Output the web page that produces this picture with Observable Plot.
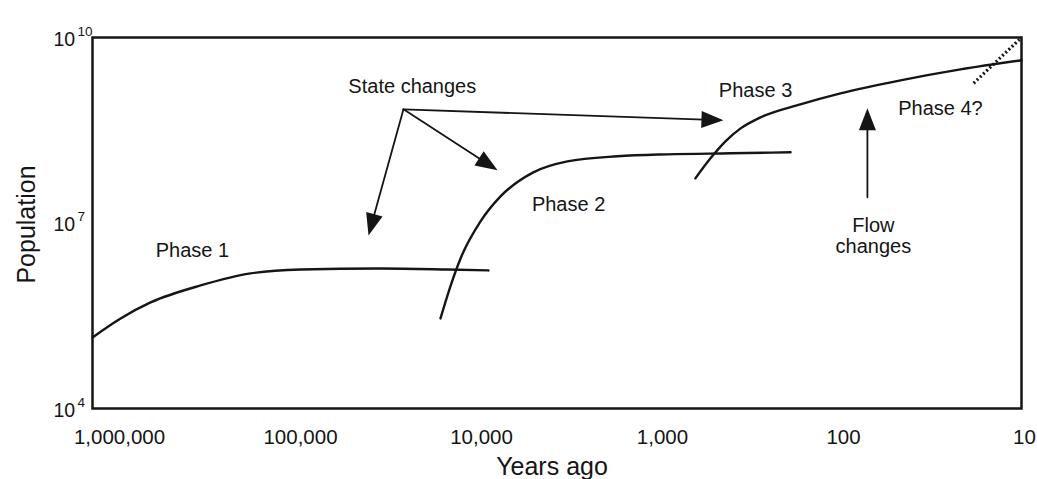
<!DOCTYPE html>
<html><head><meta charset="utf-8">
<script src="https://cdn.jsdelivr.net/npm/d3@7"></script>
<script src="https://cdn.jsdelivr.net/npm/@observablehq/plot@0.6"></script>
<style>body{margin:0;background:#fff} #chart svg{display:block}</style>
</head><body><div id="chart"></div>
<script>
// ---- data ----
const phase1Years = [1000000, 706000, 487000, 262000, 141000, 75800, 28200, 12300, 7400];
const phase1Pop   = [1.41e5, 2.86e5, 5.19e5, 9.77e5, 1.53e6, 1.77e6, 1.84e6, 1.77e6, 1.71e6];
const phase2Years = [13400, 11800, 10450, 8160, 6370, 4240, 2780, 1490, 804, 368, 175];
const phase2Pop   = [2.86e5, 9.8e5, 2.67e6, 1.06e7, 2.69e7, 6.59e7, 9.9e7, 1.2e8, 1.29e8, 1.34e8, 1.39e8];
const phase3Years = [569, 472, 392, 325, 254, 155, 94.2, 44.8, 21.3, 10];
const phase3Pop   = [5.27e7, 1.11e8, 2.09e8, 3.39e8, 5.11e8, 8.30e8, 1.25e9, 2.03e9, 3.05e9, 4.28e9];
const phase4Years = [18.1, 10];
const phase4Pop   = [1.82e9, 1e10];

const arrowFromYears = [21200, 21200, 21200, 67.5];
const arrowFromPop   = [6.89e8, 6.89e8, 6.89e8, 2.6e7];
const arrowToYears   = [32700, 6610, 402, 67.5];
const arrowToPop     = [6.3e6, 7.1e7, 4.57e8, 7.15e8];

const labelText  = ["State changes", "Phase 1", "Phase 2", "Phase 3", "Phase 4?", "Flow\nchanges"];
const labelYears = [19000, 290000, 2740, 270, 27.3, 62.7];
const labelPop   = [1.62e9, 3.6e6, 2.0e7, 1.4e9, 7.15e8, 6.17e6];

const xTicks = [1000000, 100000, 10000, 1000, 100, 10];
const xTickLabels = ["1,000,000", "100,000", "10,000", "1,000", "100", "10"];
const yTicks = [1e4, 1e7, 1e10];
const yTickExp = ["4", "7", "10"];

// ---- layout ----
const W = 1037, H = 479;
const M = {top: 37, right: 16, bottom: 71, left: 92};
const font = "'Liberation Sans', Arial, Helvetica, sans-serif";
const ink = "#151515";

const xDomain = [1e6, 10], yDomain = [1e4, 1e10];
const xs = Plot.scale({x: {type: "log", domain: xDomain, range: [M.left, W - M.right]}});
const ys = Plot.scale({y: {type: "log", domain: yDomain, range: [H - M.bottom, M.top]}});

const series = (yrs, pops) => yrs.map((y, i) => ({years: y, pop: pops[i]}));
const arrows = arrowFromYears.map((d, i) => {
  const x1 = xs.apply(d), y1 = ys.apply(arrowFromPop[i]);
  const x2 = xs.apply(arrowToYears[i]), y2 = ys.apply(arrowToPop[i]);
  const angle = Math.atan2(x2 - x1, -(y2 - y1)) * 180 / Math.PI;
  return {x1: d, y1: arrowFromPop[i], x2: arrowToYears[i], y2: arrowToPop[i], angle};
});
const labels = labelText.map((t, i) => ({text: t, years: labelYears[i], pop: labelPop[i]}));

// arrowhead symbol: tip at origin, pointing up
const headSymbol = {
  draw(ctx) {
    const L = 22, w = 8.5;
    ctx.moveTo(0, 0);
    ctx.lineTo(w, L);
    ctx.lineTo(-w, L);
    ctx.closePath();
  }
};

const curveOpts = {x: "years", y: "pop", stroke: ink, strokeWidth: 2.4, curve: "monotone-x"};

const marks = [
  Plot.line(series(phase1Years, phase1Pop), curveOpts),
  Plot.line(series(phase2Years, phase2Pop), curveOpts),
  Plot.line(series(phase3Years, phase3Pop), curveOpts),
  Plot.line(series(phase4Years, phase4Pop), {x: "years", y: "pop", stroke: ink, strokeWidth: 3.2, strokeDasharray: "2,2.4", strokeLinecap: "butt"}),
  Plot.arrow(arrows, {x1: "x1", y1: "y1", x2: "x2", y2: "y2", stroke: ink, strokeWidth: 1.8, headLength: 0, insetEnd: 12}),
  Plot.dot(arrows, {x: "x2", y: "y2", symbol: headSymbol, rotate: "angle", fill: ink, stroke: "none", r: 5}),
  Plot.text(labels, {x: "years", y: "pop", text: "text", fontSize: 20, lineHeight: 1.05, fill: ink, fontFamily: font}),
  Plot.frame({stroke: ink, strokeWidth: 2.5}),
  // y tick labels (10 with superscript exponent)
  Plot.text(yTicks, {y: d => d, text: () => "10", frameAnchor: "left", dx: -39, dy: 2, textAnchor: "start", fontSize: 19.5, fill: ink, fontFamily: font}),
  Plot.text(yTicks, {y: d => d, text: (d, i) => yTickExp[i], frameAnchor: "left", dx: -15, dy: -6, textAnchor: "start", fontSize: 13.5, fill: ink, fontFamily: font}),
  // x tick labels
  ...xTicks.map((t, i) => Plot.text([t], {x: d => d, text: () => xTickLabels[i], frameAnchor: "bottom", textAnchor: "middle", dx: 27 - 4.8 * i, dy: 35, lineAnchor: "bottom", fontSize: 20.5, fill: ink, fontFamily: font})),
  // axis titles
  Plot.text(["Years ago"], {text: d => d, frameAnchor: "bottom", textAnchor: "middle", dx: -5, dy: 66, lineAnchor: "bottom", fontSize: 25, fill: ink, fontFamily: font}),
  Plot.text(["Population"], {text: d => d, frameAnchor: "left", textAnchor: "middle", dx: -58, dy: 1.5, rotate: -90, lineAnchor: "bottom", fontSize: 25, fill: ink, fontFamily: font})
];

const chart = Plot.plot({
  width: W, height: H,
  marginTop: M.top, marginRight: M.right, marginBottom: M.bottom, marginLeft: M.left,
  x: {type: "log", domain: xDomain, axis: null},
  y: {type: "log", domain: yDomain, axis: null},
  style: {fontFamily: font, background: "white", overflow: "visible"},
  marks
});
document.getElementById("chart").append(chart);
</script>
</body></html>
